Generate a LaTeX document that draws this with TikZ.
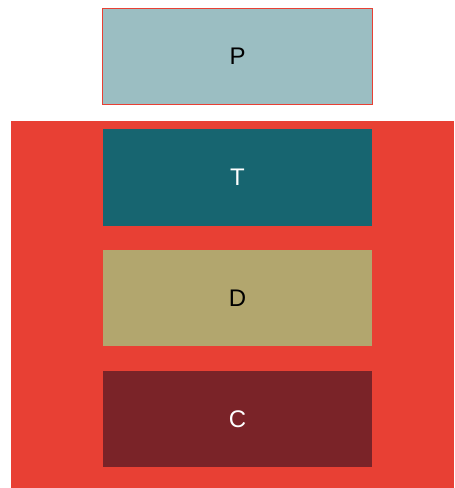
\documentclass[tikz,border=0pt]{standalone}
\usepackage{fontspec}
\setmainfont{Liberation Sans}
\definecolor{redbg}{HTML}{E84034}
\definecolor{pfill}{HTML}{9BBEC2}
\definecolor{tfill}{HTML}{176570}
\definecolor{dfill}{HTML}{B2A66E}
\definecolor{cfill}{HTML}{7A2328}
\begin{document}
\begin{tikzpicture}[x=0.75pt,y=-0.75pt,
  boxstyle/.style={rectangle, minimum width=269*0.75pt, minimum height=96*0.75pt, inner sep=0pt, font=\fontsize{18}{20}\selectfont}]
\useasboundingbox (0,0) rectangle (454,488);
\node[rectangle, fill=redbg, inner sep=0pt, minimum width=443*0.75pt, minimum height=367*0.75pt] (bg) at (232.5,304.5) {};
\node[boxstyle, fill=pfill, draw=redbg, line width=0.75pt, minimum width=270*0.75pt, minimum height=96*0.75pt] (p) at (237.5,56.5) {P};
\node[boxstyle, fill=tfill, text=white] (t) at (237.5,177.5) {T};
\node[boxstyle, fill=dfill] (d) at (237.5,298) {D};
\node[boxstyle, fill=cfill, text=white] (c) at (237.5,419) {C};
\end{tikzpicture}
\end{document}
